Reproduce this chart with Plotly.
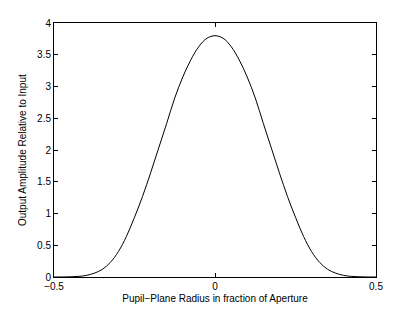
import plotly.graph_objects as go

# Half-profile (symmetric about 0)
radius_half = [0.0, 0.025, 0.05, 0.075, 0.1, 0.125, 0.15, 0.175, 0.2, 0.225, 0.25,
               0.275, 0.3, 0.325, 0.35, 0.375, 0.4, 0.425, 0.45, 0.475, 0.5]
amplitude_half = [3.80, 3.76, 3.63, 3.42, 3.15, 2.82, 2.42, 2.03, 1.64, 1.27, 0.94,
                  0.64, 0.40, 0.23, 0.12, 0.06, 0.025, 0.009, 0.003, 0.0005, 0.0]

x_ticks = [-0.5, 0, 0.5]
x_tick_labels = ["\u22120.5", "0", "0.5"]
y_ticks = [0, 0.5, 1, 1.5, 2, 2.5, 3, 3.5, 4]
y_tick_labels = ["0", "0.5", "1", "1.5", "2", "2.5", "3", "3.5", "4"]

x = [-r for r in radius_half[::-1]] + radius_half[1:]
y = amplitude_half[::-1] + amplitude_half[1:]

FONT = "Liberation Sans, Arial, sans-serif"

fig = go.Figure(go.Scatter(x=x, y=y, mode="lines", line=dict(color="black", width=1, shape="spline"),
                           hoverinfo="skip"))

axis_common = dict(showgrid=False, zeroline=False, showline=True, linecolor="black", linewidth=1,
                   mirror="ticks", ticks="inside", ticklen=4, tickcolor="black", automargin=False,
                   tickfont=dict(family=FONT, size=10, color="black"))

fig.update_xaxes(range=[-0.5, 0.5], tickvals=x_ticks, ticktext=x_tick_labels,
                 title=dict(text="Pupil\u2212Plane Radius in fraction of Aperture",
                            font=dict(family=FONT, size=10, color="black")),
                 **axis_common)
fig.update_yaxes(range=[0, 4], tickvals=y_ticks, ticktext=y_tick_labels, **axis_common)

fig.add_annotation(text="Output Amplitude Relative to Input", xref="paper", yref="paper",
                   x=0, y=0.5, xanchor="center", yanchor="middle", xshift=-32, textangle=-90,
                   showarrow=False, font=dict(family=FONT, size=10, color="black"))

# page body has an 8px default margin, so the figure is sized to fit the 415x312 window
fig.update_layout(width=399, height=296, margin=dict(l=46, r=31, t=15, b=27),
                  paper_bgcolor="white", plot_bgcolor="white", showlegend=False)

fig.write_html("out.html")
